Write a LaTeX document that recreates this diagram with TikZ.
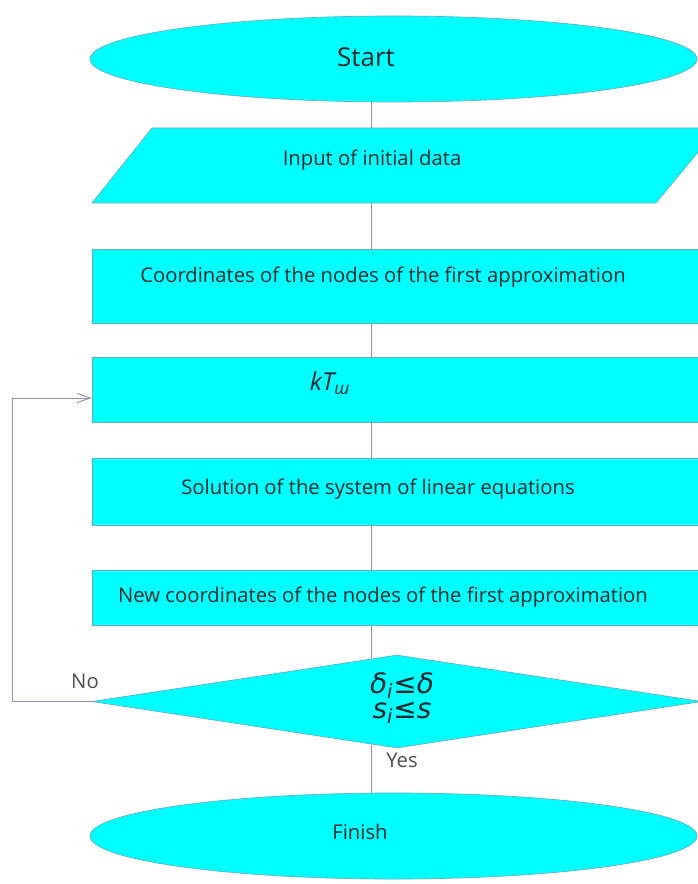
\documentclass[tikz,border=0pt]{standalone}
\usepackage{fontspec}
\setmainfont{Open Sans}
\newfontfamily\symfont{DejaVu Sans}
\usepackage{tikz}
\usetikzlibrary{shapes.geometric,arrows.meta,positioning}
\definecolor{flowcyan}{RGB}{0,255,255}
\definecolor{flowedge}{RGB}{105,170,195}
\definecolor{flowline}{RGB}{145,145,170}
\definecolor{flowtext}{RGB}{25,40,45}
\tikzstyle{cbox}=[rectangle, draw=flowedge, fill=flowcyan, line width=0.5pt, inner sep=0pt, minimum width=628*0.75pt]
\tikzstyle{cell}=[ellipse, draw=flowedge, fill=flowcyan, line width=0.5pt, inner sep=0pt, minimum width=607*0.75pt, minimum height=86*0.75pt]
\tikzstyle{cpar}=[draw=flowedge, fill=flowcyan, line width=0.5pt]
\tikzstyle{cdec}=[diamond, draw=flowedge, fill=flowcyan, line width=0.5pt, inner sep=0pt]
\tikzstyle{ctxt}=[text=flowtext, font=\fontsize{15.2}{18}\selectfont, inner sep=0pt]
\tikzstyle{clink}=[draw=flowline, line width=0.7pt]

\begin{document}
\begin{tikzpicture}[x=0.75pt,y=-0.75pt]
			\useasboundingbox (0,0) rectangle (697,884);
			\coordinate (axis) at (371,0);
			\coordinate (turn) at (12,398);

			\node[cell] (start) at (393.5,59) {};
			\path[cpar] (92,203) -- (152,128) -- (718,128) -- (656,203) -- cycle;
			\coordinate (inputtop) at (371,128);
			\coordinate (inputbot) at (371,203);
			\node[cbox,minimum height=74*0.75pt] (approx) at (406,286) {};
			\node[cbox,minimum height=65*0.75pt] (ktsh) at (406,389.5) {};
			\node[cbox,minimum height=67*0.75pt] (solve) at (406,491.5) {};
			\node[cbox,minimum height=55*0.75pt] (newapprox) at (406,597.5) {};
			\node[cdec,minimum width=610*0.75pt,minimum height=93*0.75pt] (check) at (397,701.5) {};
			\node[cell] (finish) at (393.5,836) {};

			\node[ctxt,font=\fontsize{19.5}{22}\selectfont] (lblstart) at (366,57) {Start};
			\node[ctxt] (lblinput) at (372,160) {Input of initial data};
			\node[ctxt] (lblapprox) at (383,277) {Coordinates of the nodes of the first approximation};
			\node[ctxt,font=\fontsize{18.5}{21}\selectfont\itshape] (lblktsh) at (330,383) {kT\textsubscript{ш}};
			\node[ctxt] (lblsolve) at (378,489) {Solution of the system of linear equations};
			\node[ctxt] (lblnewapprox) at (383,597) {New coordinates of the nodes of the first approximation};
			\node[ctxt,align=center,font=\symfont\itshape\fontsize{21}{19}\selectfont] (lblcheck) at (402,698) {δ\textsubscript{i}≤δ\\s\textsubscript{i}≤s};
			\node[ctxt,text=black!70] (lblyes) at (402,760) {Yes};
			\node[ctxt,text=black!70] (lblno) at (85,681) {No};
			\node[ctxt] (lblfinish) at (360,832) {Finish};

			\draw[clink] (start.south -| axis) -- (inputtop);
			\draw[clink] (inputbot) -- (approx.north -| axis);
			\draw[clink] (approx.south -| axis) -- (ktsh.north -| axis);
			\draw[clink] (ktsh.south -| axis) -- (solve.north -| axis);
			\draw[clink] (solve.south -| axis) -- (newapprox.north -| axis);
			\draw[clink] (newapprox.south -| axis) -- ([yshift=-3*0.75pt] check.north -| axis);
			\draw[clink] ([yshift=3*0.75pt] check.south -| axis) -- (finish.north -| axis);

			\draw[clink,-{Straight Barb[length=10pt,width=7pt]}] (check.west) -| (turn) -- (ktsh.west |- turn);
		\end{tikzpicture}
\end{document}
